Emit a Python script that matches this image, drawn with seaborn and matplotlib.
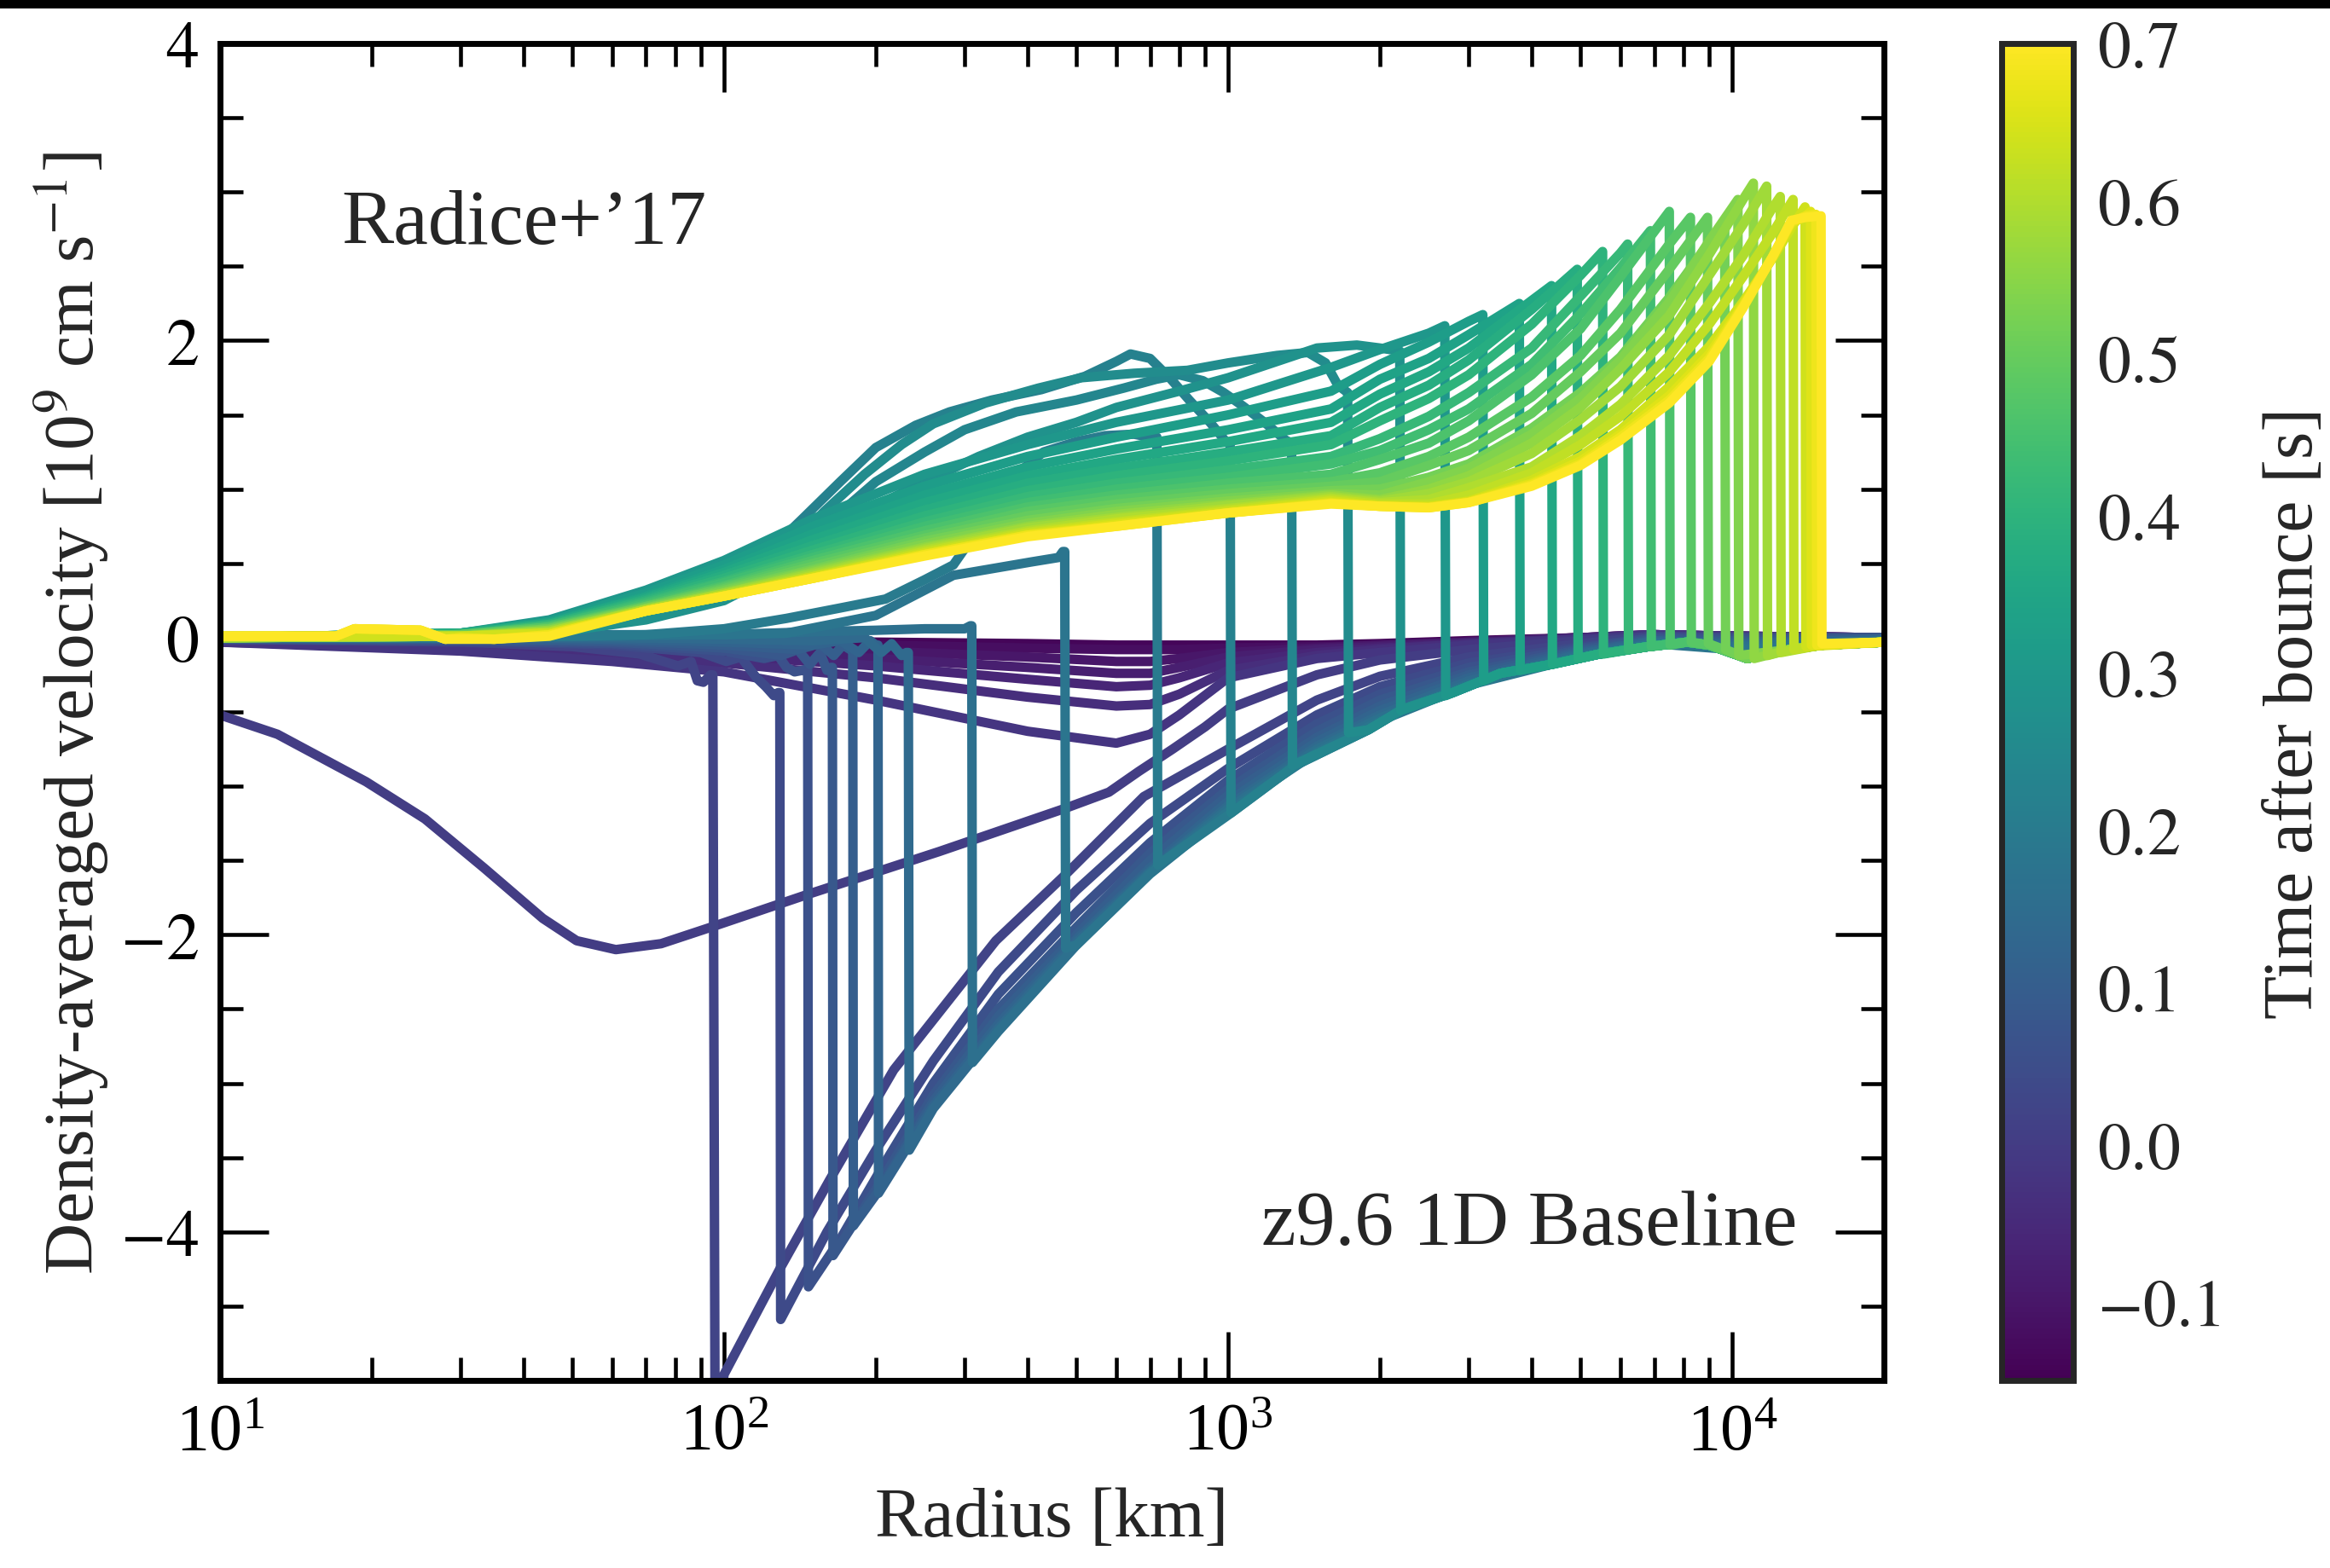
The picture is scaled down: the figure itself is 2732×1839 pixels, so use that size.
import numpy as np
import pandas as pd
import matplotlib
matplotlib.use("Agg")
import matplotlib.pyplot as plt
import seaborn as sns
from matplotlib.colors import Normalize
from matplotlib.cm import ScalarMappable
from matplotlib.patches import Rectangle
from matplotlib.ticker import LogLocator, MultipleLocator, NullFormatter, FuncFormatter

# ---------------------------------------------------------------------------
# Density-averaged radial velocity profiles, z9.6 1D baseline model
# radius in km, velocity in 1e9 cm/s, time after bounce in s
# ---------------------------------------------------------------------------

# collapse phase (before bounce)
pre_t = [-0.14, -0.12, -0.10, -0.08, -0.06, -0.04, -0.02]
pre_r = [10, 30, 60, 100, 200, 400, 600, 700, 800, 1000, 1500, 2000, 3000, 5000, 7000, 10000, 20000]
pre_v = [
    [-0.01, -0.01, -0.02, -0.02, -0.03, -0.04, -0.05, -0.05, -0.05, -0.05, -0.05, -0.04, -0.02, 0.00, 0.01, 0.01, 0.00],
    [-0.01, -0.02, -0.03, -0.04, -0.05, -0.07, -0.08, -0.08, -0.08, -0.07, -0.06, -0.05, -0.03, 0.00, 0.02, 0.01, 0.00],
    [-0.02, -0.03, -0.05, -0.07, -0.09, -0.13, -0.16, -0.16, -0.14, -0.10, -0.07, -0.05, -0.03, 0.00, 0.02, 0.01, 0.00],
    [-0.02, -0.04, -0.07, -0.09, -0.14, -0.20, -0.24, -0.24, -0.20, -0.13, -0.08, -0.06, -0.03, 0.00, 0.02, 0.01, 0.00],
    [-0.02, -0.05, -0.09, -0.12, -0.19, -0.28, -0.33, -0.32, -0.27, -0.17, -0.10, -0.07, -0.04, 0.00, 0.02, 0.01, 0.00],
    [-0.03, -0.07, -0.12, -0.17, -0.27, -0.40, -0.46, -0.45, -0.38, -0.22, -0.12, -0.08, -0.04, -0.01, 0.02, 0.01, 0.00],
    [-0.03, -0.09, -0.16, -0.23, -0.42, -0.63, -0.71, -0.65, -0.52, -0.27, -0.14, -0.10, -0.05, -0.01, 0.02, 0.01, 0.00],
]

# bounce
bounce_t = 0.0
bounce_r = [10, 13, 19.5, 25.5, 33.4, 43.7, 51, 61, 75, 94, 146, 267, 474, 580, 665, 776, 900,
            1000, 1500, 2000, 3000, 5000, 7000, 10000, 20000]
bounce_v = [-0.52, -0.65, -0.97, -1.22, -1.55, -1.89, -2.04, -2.10, -2.06, -1.95, -1.73, -1.44, -1.15,
            -1.04, -0.90, -0.75, -0.60, -0.48, -0.25, -0.15, -0.08, -0.02, 0.01, 0.00, 0.00]

# stalled accretion shock
stall_t = [0.02, 0.04, 0.06, 0.08, 0.10, 0.12, 0.14, 0.16, 0.18]
stall_rs = [95, 129, 146.5, 164, 180, 202, 232, 310, 474]
stall_in_r = [
    [10, 30, 50, 68, 81, 86, 88.5, 91, 94],
    [10, 30, 60, 90, 101, 108, 113, 116, 121, 125.5, 128],
    [10, 30, 60, 100, 120, 128, 133, 138, 143, 146],
    [10, 30, 60, 100, 130, 140, 148, 155, 160, 163],
    [10, 30, 60, 100, 140, 155, 165, 172, 178],
    [10, 30, 60, 100, 150, 170, 185, 195, 200],
    [10, 30, 60, 100, 150, 190, 205, 215, 225, 230],
    [10, 30, 60, 100, 150, 200, 250, 300, 308],
    [10, 30, 60, 100, 133, 200, 285, 407, 461, 470],
]
stall_in_v = [
    [-0.01, -0.03, -0.06, -0.11, -0.19, -0.16, -0.29, -0.30, -0.25],
    [-0.01, -0.02, -0.05, -0.10, -0.16, -0.13, -0.22, -0.27, -0.33, -0.39, -0.37],
    [-0.01, -0.02, -0.04, -0.09, -0.14, -0.12, -0.20, -0.23, -0.22, -0.21],
    [-0.01, -0.01, -0.03, -0.07, -0.12, -0.08, -0.18, -0.10, -0.22, -0.20],
    [0.00, -0.01, -0.02, -0.05, -0.08, -0.04, -0.12, -0.05, -0.08],
    [0.00, 0.00, -0.01, -0.03, -0.05, -0.02, -0.10, -0.02, -0.05],
    [0.00, 0.00, 0.00, -0.01, -0.02, 0.00, -0.10, -0.04, -0.12, -0.10],
    [0.00, 0.00, 0.01, 0.02, 0.04, 0.05, 0.06, 0.06, 0.08],
    [0.00, 0.00, 0.02, 0.02, 0.03, 0.15, 0.42, 0.51, 0.54, 0.58],
]
stall_out_r = [
    [96, 100, 129, 162, 217, 346, 474, 680],
    [129.5, 160, 200, 260, 350, 500, 700],
    [147, 170, 203, 260, 350, 500, 700],
    [164.5, 203, 260, 350, 500, 700],
    [180.5, 203, 260, 350, 500, 700],
    [202.5, 260, 350, 500, 700],
    [233, 260, 350, 500, 700],
    [311, 350, 500, 700],
    [476, 500, 700],
]
stall_out_v = [
    [-5.40, -4.96, -4.25, -3.65, -2.91, -2.04, -1.60, -1.07],
    [-4.59, -4.00, -3.45, -2.85, -2.25, -1.70, -1.25],
    [-4.37, -4.05, -3.60, -3.00, -2.40, -1.85, -1.38],
    [-4.16, -3.68, -3.08, -2.50, -1.95, -1.45],
    [-3.96, -3.72, -3.12, -2.55, -2.00, -1.50],
    [-3.74, -3.15, -2.60, -2.03, -1.55],
    [-3.45, -3.17, -2.63, -2.05, -1.57],
    [-2.86, -2.65, -2.07, -1.58],
    [-2.09, -2.07, -1.59],
]
far_r = [1000, 1500, 2000, 3000, 5000, 7000, 10000, 20000]
stall_far_v = [
    [-0.75, -0.42, -0.26, -0.13, -0.04, 0.01, 0.00, 0.00],
    [-0.88, -0.52, -0.33, -0.17, -0.06, 0.00, 0.00, 0.00],
    [-0.96, -0.58, -0.38, -0.20, -0.07, 0.00, -0.01, 0.00],
    [-1.02, -0.63, -0.42, -0.23, -0.08, -0.01, -0.02, 0.00],
    [-1.06, -0.67, -0.46, -0.25, -0.09, -0.02, -0.03, -0.01],
    [-1.10, -0.70, -0.49, -0.27, -0.10, -0.02, -0.04, -0.01],
    [-1.13, -0.73, -0.52, -0.29, -0.11, -0.03, -0.05, -0.02],
    [-1.15, -0.75, -0.54, -0.31, -0.12, -0.04, -0.06, -0.02],
    [-1.17, -0.77, -0.56, -0.32, -0.13, -0.04, -0.08, -0.03],
]

# infall ahead of the expanding shock
env_r = [1014, 1358, 1897, 2223, 2786, 3467, 4365, 5445, 6808, 8128, 9000, 10700, 13000, 15000, 20000]
env_v = [-1.18, -0.86, -0.62, -0.48, -0.37, -0.24, -0.18, -0.11, -0.06, -0.03, -0.05, -0.14, -0.08, -0.05, -0.03]

# early explosion
early_t = [0.20, 0.22, 0.24, 0.26, 0.28]
early_r = [
    [10, 30, 50, 70, 100, 133, 170, 209, 250, 285, 330, 380, 430, 500, 570, 650, 700],
    [10, 30, 50, 70, 100, 120, 143, 170, 200, 240, 280, 340, 426, 520, 600, 640, 700, 770, 837, 920, 990],
    [10, 30, 50, 70, 100, 125, 150, 175, 200, 250, 300, 380, 500, 620, 720, 800, 891, 980, 1069, 1180, 1300],
    [10, 30, 50, 70, 100, 130, 158, 190, 225, 260, 330, 420, 511, 650, 830, 1000, 1250, 1440, 1560, 1650],
    [10, 30, 50, 70, 100, 125, 150, 190, 250, 320, 400, 500, 600, 800, 1000, 1250, 1500, 1800, 2000],
]
early_v = [
    [0.00, 0.00, 0.01, 0.02, 0.06, 0.13, 0.20, 0.26, 0.39, 0.49, 0.80, 1.10, 1.25, 1.32, 1.36, 1.37, 1.35],
    [0.00, 0.02, 0.06, 0.15, 0.35, 0.55, 0.80, 1.05, 1.28, 1.43, 1.52, 1.60, 1.67, 1.76, 1.86, 1.91, 1.88, 1.74, 1.60, 1.45, 1.32],
    [0.00, 0.02, 0.06, 0.14, 0.30, 0.50, 0.70, 0.88, 1.05, 1.25, 1.40, 1.52, 1.60, 1.68, 1.74, 1.77, 1.73, 1.65, 1.56, 1.45, 1.33],
    [0.00, 0.02, 0.06, 0.14, 0.30, 0.55, 0.85, 1.10, 1.30, 1.44, 1.58, 1.68, 1.75, 1.78, 1.80, 1.85, 1.90, 1.92, 1.85, 1.70],
    [0.00, 0.02, 0.05, 0.12, 0.25, 0.42, 0.60, 0.85, 1.05, 1.22, 1.35, 1.45, 1.55, 1.66, 1.75, 1.86, 1.95, 1.97, 1.95],
]
early_rs = [722, 1009, 1336, 1726, 2190]
early_vs = [1.35, 1.30, 1.31, 1.65, 1.93]
early_vbot = [-1.53, -1.18, -0.86, -0.64, -0.49]

# developed explosion
late_t = [0.30, 0.32, 0.34, 0.36, 0.38, 0.40, 0.42, 0.44, 0.46, 0.48, 0.50,
          0.52, 0.54, 0.56, 0.58, 0.60, 0.62, 0.64, 0.66, 0.68, 0.70]
late_r = [10, 30, 45, 70, 100, 150, 250, 400, 600, 1000, 1600, 2000, 2500, 3000,
          4000, 5000, 6000, 7500, 9000, 10500, 12000, 13100, 14000]
late_v = [
    [0.00, 0.03, 0.12, 0.32, 0.52, 0.80, 1.10, 1.30, 1.45, 1.60, 1.82, 1.94, 2.05],
    [0.00, 0.03, 0.11, 0.30, 0.49, 0.75, 1.02, 1.22, 1.35, 1.50, 1.66, 1.84, 1.99, 2.13],
    [0.00, 0.03, 0.10, 0.28, 0.46, 0.70, 0.96, 1.15, 1.27, 1.40, 1.54, 1.74, 1.88, 2.04],
    [0.00, 0.03, 0.10, 0.27, 0.44, 0.66, 0.91, 1.09, 1.20, 1.32, 1.45, 1.64, 1.79, 1.95, 2.27],
    [0.00, 0.03, 0.09, 0.26, 0.42, 0.62, 0.86, 1.04, 1.14, 1.25, 1.36, 1.55, 1.70, 1.87, 2.21],
    [0.00, 0.02, 0.09, 0.25, 0.40, 0.59, 0.82, 0.99, 1.09, 1.19, 1.30, 1.46, 1.61, 1.77, 2.11, 2.44],
    [0.00, 0.02, 0.08, 0.24, 0.38, 0.56, 0.78, 0.95, 1.04, 1.13, 1.22, 1.34, 1.49, 1.65, 1.95, 2.30, 2.59],
    [0.00, 0.02, 0.08, 0.23, 0.37, 0.54, 0.75, 0.91, 1.00, 1.08, 1.17, 1.26, 1.40, 1.54, 1.84, 2.18, 2.49],
    [0.00, 0.02, 0.07, 0.22, 0.35, 0.52, 0.72, 0.88, 0.96, 1.04, 1.10, 1.20, 1.31, 1.46, 1.77, 2.08, 2.43],
    [0.00, 0.02, 0.07, 0.21, 0.34, 0.50, 0.69, 0.85, 0.93, 1.00, 1.05, 1.11, 1.22, 1.35, 1.62, 1.90, 2.21, 2.65],
    [0.00, 0.02, 0.06, 0.21, 0.33, 0.48, 0.67, 0.82, 0.90, 0.97, 1.02, 1.05, 1.16, 1.26, 1.51, 1.79, 2.05, 2.48],
    [0.00, 0.01, 0.06, 0.20, 0.32, 0.46, 0.65, 0.79, 0.87, 0.94, 0.99, 1.00, 1.08, 1.17, 1.41, 1.65, 1.89, 2.29, 2.66],
    [0.00, 0.01, 0.05, 0.20, 0.31, 0.45, 0.63, 0.77, 0.85, 0.92, 0.97, 0.96, 1.05, 1.14, 1.37, 1.61, 1.87, 2.26, 2.67],
    [0.00, 0.01, 0.05, 0.19, 0.30, 0.44, 0.61, 0.75, 0.83, 0.90, 0.96, 0.93, 1.00, 1.09, 1.31, 1.55, 1.81, 2.17, 2.58, 2.95],
    [0.00, 0.01, 0.04, 0.19, 0.30, 0.43, 0.60, 0.74, 0.81, 0.89, 0.95, 0.92, 0.97, 1.05, 1.24, 1.47, 1.69, 2.04, 2.44, 2.78],
    [0.00, 0.01, 0.04, 0.19, 0.29, 0.42, 0.59, 0.72, 0.80, 0.87, 0.94, 0.91, 0.93, 1.01, 1.15, 1.36, 1.57, 1.90, 2.25, 2.57, 2.89],
    [0.01, 0.01, 0.03, 0.18, 0.29, 0.41, 0.58, 0.71, 0.78, 0.86, 0.93, 0.90, 0.90, 0.96, 1.11, 1.30, 1.49, 1.79, 2.11, 2.43, 2.72],
    [0.01, 0.01, 0.03, 0.18, 0.28, 0.41, 0.57, 0.70, 0.77, 0.85, 0.92, 0.89, 0.885, 0.92, 1.06, 1.22, 1.40, 1.69, 1.96, 2.26, 2.55, 2.76],
    [0.01, 0.00, 0.02, 0.18, 0.28, 0.40, 0.56, 0.69, 0.76, 0.84, 0.91, 0.885, 0.88, 0.915, 1.04, 1.19, 1.37, 1.63, 1.91, 2.24, 2.56, 2.79, 2.84],
    [0.01, 0.00, 0.02, 0.18, 0.28, 0.40, 0.56, 0.69, 0.75, 0.84, 0.905, 0.885, 0.875, 0.91, 1.03, 1.17, 1.35, 1.60, 1.88, 2.23, 2.56, 2.80, 2.84],
    [0.01, -0.01, 0.01, 0.18, 0.28, 0.40, 0.55, 0.68, 0.75, 0.84, 0.90, 0.885, 0.875, 0.91, 1.02, 1.16, 1.33, 1.58, 1.86, 2.22, 2.56, 2.81, 2.83],
]
late_rs = [2690, 3200, 3780, 4380, 4925, 5530, 6200, 6880, 7500, 8260, 8930,
           9660, 10260, 11010, 11700, 12450, 13200, 13940, 14300, 14650, 15000]
late_vs = [2.10, 2.175, 2.25, 2.37, 2.48, 2.60, 2.65, 2.74, 2.87, 2.83, 2.83,
           2.81, 2.95, 3.06, 3.04, 2.97, 2.95, 2.90, 2.87, 2.85, 2.84]
late_vbot = [-0.39, -0.29, -0.22, -0.18, -0.14, -0.11, -0.08, -0.06, -0.05, -0.03, -0.04,
             -0.08, -0.12, -0.14, -0.12, -0.10, -0.08, -0.06, -0.05, -0.05, -0.04]

# small step near 18 km in the last few snapshots
step_t_min = 0.66
step_r = [17, 18.5, 25, 28, 35]
step_v = [0.01, 0.06, 0.05, -0.01, -0.01]

# ---------------------------------------------------------------------------
# assemble one long table: one row per (profile, radius)
# ---------------------------------------------------------------------------
records = []


def add_profile(t, r, v):
    cid = len({rec[0] for rec in records})
    for ri, vi in zip(r, v):
        records.append((cid, t, ri, vi))


def with_shock(r_in, v_in, rs, vs, r_out, v_out):
    keep = [i for i, ri in enumerate(r_in) if ri < rs]
    r = [r_in[i] for i in keep] + [rs]
    v = [v_in[i] for i in keep] + [vs]
    return r + list(r_out), v + list(v_out)


for t, v in zip(pre_t, pre_v):
    add_profile(t, pre_r, v)

add_profile(bounce_t, bounce_r, bounce_v)

for i, t in enumerate(stall_t):
    r, v = with_shock(stall_in_r[i], stall_in_v[i], stall_rs[i], stall_in_v[i][-1],
                      stall_out_r[i] + far_r, stall_out_v[i] + stall_far_v[i])
    add_profile(t, r, v)

for i, t in enumerate(early_t):
    rs = early_rs[i]
    out_r = [rs * 1.004] + [x for x in env_r if x > rs * 1.08]
    out_v = [early_vbot[i]] + [y for x, y in zip(env_r, env_v) if x > rs * 1.08]
    r, v = with_shock(early_r[i], early_v[i], rs, early_vs[i], out_r, out_v)
    add_profile(t, r, v)

for i, t in enumerate(late_t):
    rs = late_rs[i]
    row = list(late_v[i])
    rin = list(late_r[:len(row)])
    if t >= step_t_min - 1e-9:
        rin = rin[:1] + step_r + rin[1:]
        row = row[:1] + step_v + row[1:]
        order = np.argsort(rin, kind="stable")
        rin = [rin[k] for k in order]
        row = [row[k] for k in order]
    out_r = [rs * 1.004] + [x for x in env_r if x > rs * 1.08]
    out_v = [late_vbot[i]] + [y for x, y in zip(env_r, env_v) if x > rs * 1.08]
    r, v = with_shock(rin, row, rs, late_vs[i], out_r, out_v)
    add_profile(t, r, v)

df = pd.DataFrame(records, columns=["cid", "t", "r", "v"])

# ---------------------------------------------------------------------------
# figure
# ---------------------------------------------------------------------------
sns.set_theme(style="ticks")
plt.rcParams["font.family"] = ["Liberation Serif", "DejaVu Serif"]
plt.rcParams["mathtext.fontset"] = "stix"

DPI = 200
LW = 4.0
fig = plt.figure(figsize=(2732 / DPI, 1840 / DPI), dpi=DPI)
ax = fig.add_axes([0.0944, 0.1196, 0.7142, 0.8521])
cax = fig.add_axes([0.859, 0.1196, 0.031, 0.8521])

norm = Normalize(vmin=-0.15, vmax=0.7)
sns.lineplot(data=df, x="r", y="v", hue="t", units="cid", estimator=None, sort=False,
             palette="viridis", hue_norm=norm, legend=False, ax=ax)
for ln in ax.lines:
    ln.set_linewidth(LW)
    ln.set_solid_joinstyle("round")
    ln.set_solid_capstyle("butt")

ax.set_xscale("log")
ax.set_xlim(10, 2e4)
ax.set_ylim(-5, 4)
ax.xaxis.set_major_locator(LogLocator(base=10, numticks=10))
ax.xaxis.set_minor_locator(LogLocator(base=10, subs=np.arange(2, 10), numticks=100))
ax.xaxis.set_minor_formatter(NullFormatter())
ax.yaxis.set_major_locator(MultipleLocator(2))
ax.yaxis.set_minor_locator(MultipleLocator(0.5))
ax.yaxis.set_major_formatter(FuncFormatter(lambda y, _: f"${y:g}$"))

ax.tick_params(which="both", direction="in", top=True, right=True, width=1.65, colors="black")
ax.tick_params(which="major", length=20.5, labelsize=28, pad=9)
ax.tick_params(which="minor", length=9.7)
for s in ax.spines.values():
    s.set_linewidth(2.5)
    s.set_color("black")
    s.set_zorder(5)

ax.set_xlabel("Radius [km]", fontsize=30, labelpad=10)
ax.set_ylabel(r"Density-averaged velocity [10$^9$ cm s$^{-1}$]", fontsize=30, labelpad=4)

ax.text(0.073, 0.865, "Radice+\u201917", transform=ax.transAxes, fontsize=33,
        ha="left", va="center")
ax.text(0.948, 0.116, "z9.6 1D Baseline", transform=ax.transAxes, fontsize=33,
        ha="right", va="center")

sm = ScalarMappable(norm=norm, cmap="viridis")
cb = fig.colorbar(sm, cax=cax)
cb.set_ticks([-0.1, 0.0, 0.1, 0.2, 0.3, 0.4, 0.5, 0.6, 0.7])
cb.ax.yaxis.set_major_formatter(FuncFormatter(lambda y, _: f"${y:.1f}$"))
cb.ax.tick_params(direction="in", length=20.5, width=1.65, labelsize=28, pad=10)
cb.ax.minorticks_off()
cb.outline.set_linewidth(2.5)
cb.set_label("Time after bounce [s]", fontsize=30, labelpad=18)

# thin dark band along the top edge
fig.add_artist(Rectangle((0, 1 - 9 / 1840), 1, 9 / 1840, transform=fig.transFigure,
                         color="black", zorder=10))

fig.savefig("out.png", dpi=DPI)
